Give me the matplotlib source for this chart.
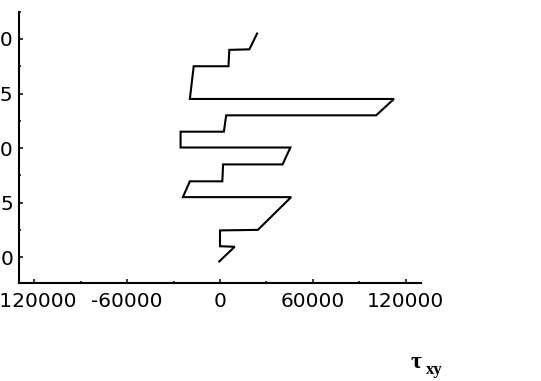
#!/usr/bin/env python3
"""
Shear stress profile tau_xy over height, stepwise trace (scanned figure).
Output: out.png
"""
import matplotlib.pyplot as plt
from matplotlib.ticker import MultipleLocator

# trace of tau_xy (x) against height (y), bottom to top
tau_xy = [-500, 9500, 0, 0, 24500, 46000, -24000, -19500, 1500, 2000,
          40500, 45500, -25500, -25500, 2500, 4000, 101000, 112500,
          -19500, -17000, 5500, 6000, 19000, 24000]
height = [-0.4, 0.95, 1.0, 2.45, 2.5, 5.5, 5.5, 6.95, 6.95, 8.5,
          8.5, 10.05, 10.05, 11.5, 11.5, 13.0, 13.0, 14.5,
          14.5, 17.5, 17.5, 19.0, 19.05, 20.5]

x_ticks = [-120000, -60000, 0, 60000, 120000]
y_ticks = [0, 5, 10, 15, 20]


def main():
    fig = plt.figure(figsize=(5.41, 3.81), dpi=100)
    ax = fig.add_axes([0.0351, 0.2564, 0.7431, 0.7129])

    ax.plot(tau_xy, height, color="black", linewidth=1.5,
            solid_joinstyle="miter")

    ax.set_xlim(-130000, 130000)
    ax.set_ylim(-2.4, 22.5)
    ax.set_xticks(x_ticks)
    ax.set_xticklabels([str(v) for v in x_ticks])
    ax.set_yticks(y_ticks)
    ax.xaxis.set_minor_locator(MultipleLocator(30000))
    ax.yaxis.set_minor_locator(MultipleLocator(2.5))

    for side in ("top", "right"):
        ax.spines[side].set_visible(False)
    for side in ("left", "bottom"):
        ax.spines[side].set_linewidth(1.5)

    ax.tick_params(which="major", direction="in", length=3.2, width=1.1,
                   labelsize=14.5)
    ax.tick_params(which="minor", direction="in", length=1.6, width=1.1)
    ax.tick_params(axis="x", which="major", pad=6.5)
    ax.tick_params(axis="y", which="major", pad=4.0)

    # axis symbol, bottom right
    fig.text(411 / 541, 1 - 368 / 381, "τ", fontsize=17, fontweight="bold",
             family="Liberation Serif", va="baseline", ha="left")
    fig.text(426 / 541, 1 - 374 / 381, "xy", fontsize=12, fontweight="bold",
             family="Liberation Serif", va="baseline", ha="left")

    fig.savefig("out.png", dpi=100)
    plt.close(fig)


if __name__ == "__main__":
    main()
